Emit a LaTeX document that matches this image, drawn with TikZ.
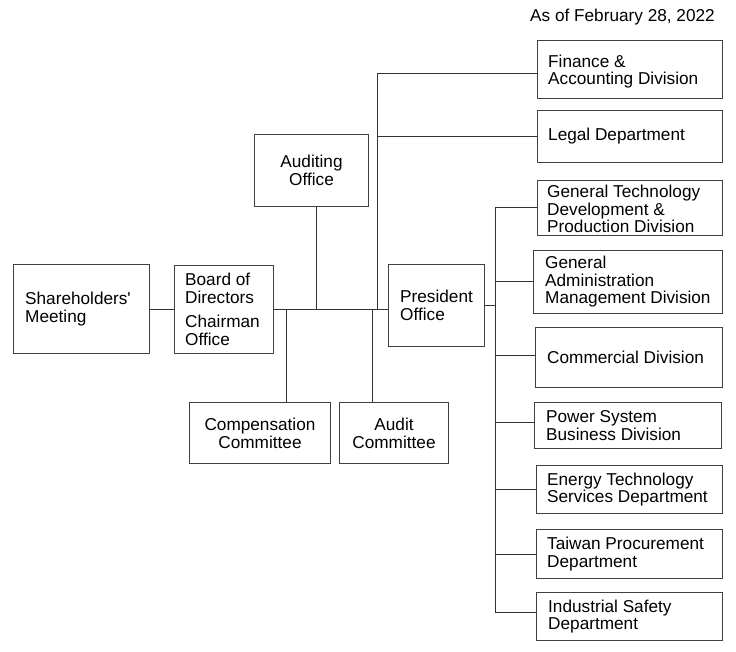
\documentclass[tikz,border=0pt]{standalone}
\usepackage{fontspec}
\setmainfont{Liberation Sans}
\begin{document}
\begin{tikzpicture}[x=1pt,y=-1pt,
  box/.style={draw=black!75, line width=1pt, anchor=north west, inner sep=0pt},
  txt/.style={anchor=west, align=left, inner sep=0pt, font=\fontsize{17.2}{17.5}\selectfont},
  ctxt/.style={align=center, inner sep=0pt, font=\fontsize{17.2}{18}\selectfont},
  conn/.style={draw=black!80, line width=1pt}]
\useasboundingbox[fill=white] (0,0) rectangle (736,652);
% date
\node[txt] (date) at (530,17) {As of February 28, 2022};
% boxes
\node[box, minimum width=136pt, minimum height=89pt] (sh) at (13,264) {};
\node[txt] (shT) at ([xshift=12pt]sh.west) {Shareholders\textquotesingle\\Meeting};
\node[box, minimum width=99pt, minimum height=88pt] (bd) at (174,265) {};
\node[txt] (bdT) at ([xshift=11pt]bd.west) {Board of\\Directors\\[7pt]Chairman\\Office};
\node[box, minimum width=114pt, minimum height=72pt] (au) at (254,134) {};
\node[ctxt] (auT) at (au.center) {Auditing\\Office};
\node[box, minimum width=96pt, minimum height=82pt] (pr) at (388,264) {};
\node[txt] (prT) at ([xshift=12pt]pr.west) {President\\Office};
\node[box, minimum width=141pt, minimum height=61pt] (cc) at (189,402) {};
\node[ctxt] (ccT) at (cc.center) {Compensation\\Committee};
\node[box, minimum width=109pt, minimum height=61pt] (ac) at (339,402) {};
\node[ctxt] (acT) at (ac.center) {Audit\\Committee};
\node[box, minimum width=185pt, minimum height=58pt] (fin) at (537,40) {};
\node[txt] (finT) at ([xshift=11pt,yshift=-2pt]fin.west) {Finance \&\\Accounting Division};
\node[box, minimum width=185pt, minimum height=52pt] (leg) at (537,110) {};
\node[txt] (legT) at ([xshift=11pt]leg.west) {Legal Department};
\node[box, minimum width=185pt, minimum height=55pt] (gt) at (537,180) {};
\node[txt] (gtT) at ([xshift=10pt,yshift=-1pt]gt.west) {General Technology\\Development \&\\Production Division};
\node[box, minimum width=189pt, minimum height=63pt] (ga) at (533,250) {};
\node[txt] (gaT) at ([xshift=12pt]ga.west) {General\\Administration\\Management Division};
\node[box, minimum width=187pt, minimum height=60pt] (co) at (535,327) {};
\node[txt] (coT) at ([xshift=12pt]co.west) {Commercial Division};
\node[box, minimum width=187pt, minimum height=46pt] (ps) at (534,402) {};
\node[txt] (psT) at ([xshift=12pt]ps.west) {Power System\\Business Division};
\node[box, minimum width=186pt, minimum height=48pt] (et) at (536,465) {};
\node[txt] (etT) at ([xshift=11pt]et.west) {Energy Technology\\Services Department};
\node[box, minimum width=186pt, minimum height=49pt] (tp) at (536,529) {};
\node[txt] (tpT) at ([xshift=11pt]tp.west) {Taiwan Procurement\\Department};
\node[box, minimum width=186pt, minimum height=48pt] (is) at (536,592) {};
\node[txt] (isT) at ([xshift=12pt]is.west) {Industrial Safety\\Department};
% junction coordinates
\coordinate (jA) at (316,309);
\coordinate (jL) at (377,309);
\coordinate (jC) at (286,309);
\coordinate (jD) at (372,309);
\coordinate (sp) at (495,305);
\coordinate (coJ) at ([yshift=2pt]co.west);
\coordinate (psJ) at ([yshift=3pt]ps.west);
\coordinate (isJ) at ([yshift=4pt]is.west);
% connectors
\draw[conn] (sh.east) -- (sh.east -| bd.west);
\draw[conn] (bd.east) -- (bd.east -| pr.west);
\draw[conn] (au.south -| jA) -- (jA);
\draw[conn] (jL) |- ([yshift=-4pt]fin.west);
\draw[conn] (jL |- leg.west) -- (leg.west);
\draw[conn] (jC) -- (jC |- cc.north);
\draw[conn] (jD) -- (jD |- ac.north);
\draw[conn] (pr.east |- sp) -- (sp);
\draw[conn] (sp |- gt.west) -- (sp |- isJ);
\draw[conn] (sp |- gt.west) -- (gt.west);
\draw[conn] (sp |- ga.west) -- (ga.west);
\draw[conn] (sp |- coJ) -- (coJ);
\draw[conn] (sp |- psJ) -- (psJ);
\draw[conn] (sp |- et.west) -- (et.west);
\draw[conn] (sp |- tp.west) -- (tp.west);
\draw[conn] (sp |- isJ) -- (isJ);
\end{tikzpicture}
\end{document}
